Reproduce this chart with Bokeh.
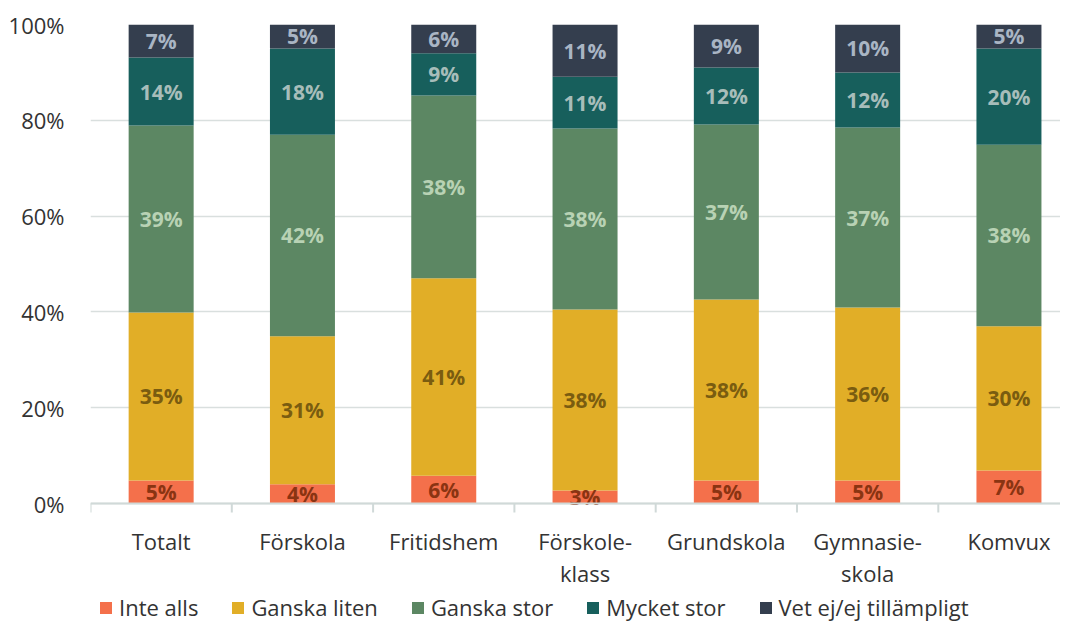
from bokeh.plotting import figure
from bokeh.models import Range1d, FixedTicker, Legend, LegendItem, ColumnDataSource, NumeralTickFormatter
from bokeh.core.properties import value
from bokeh.embed import file_html
from bokeh.resources import INLINE

categories = ["Totalt", "Förskola", "Fritidshem", "Förskole-\nklass", "Grundskola", "Gymnasie-\nskola", "Komvux"]
series = ["Inte alls", "Ganska liten", "Ganska stor", "Mycket stor", "Vet ej/ej tillämpligt"]
inte_alls = [4.8, 4.0, 5.8, 2.7, 4.8, 4.8, 6.9]
ganska_liten = [35.1, 30.9, 41.2, 37.8, 37.8, 36.1, 30.1]
ganska_stor = [39.0, 42.1, 38.2, 37.8, 36.5, 37.6, 37.9]
mycket_stor = [14.2, 18.0, 8.8, 10.8, 11.9, 11.5, 20.1]
vet_ej = [6.9, 5.0, 6.0, 10.9, 9.0, 10.0, 5.0]
labels = {
    "Inte alls": [5, 4, 6, 3, 5, 5, 7],
    "Ganska liten": [35, 31, 41, 38, 38, 36, 30],
    "Ganska stor": [39, 42, 38, 38, 37, 37, 38],
    "Mycket stor": [14, 18, 9, 11, 12, 12, 20],
    "Vet ej/ej tillämpligt": [7, 5, 6, 11, 9, 10, 5],
}
colors = ["#F4704B", "#E1AE27", "#5C8763", "#175F5C", "#343E4E"]
label_colors = ["#8A3412", "#7A5C10", "#B8D2B4", "#A7BDBA", "#A9B5C4"]

FONT = "Open Sans"
values = [inte_alls, ganska_liten, ganska_stor, mycket_stor, vet_ej]
xs = [i + 0.5 for i in range(len(categories))]
n = len(categories)

# layout: 100 % spans 479 px; the frame extends below the axis to hold labels + legend
PX = 479 / 100.0
Y_MIN = -(602 - 479) / PX
X_MAX = 970 / 141.3

data = {"x": xs}
for s, v in zip(series, values):
    data[s] = v
src = ColumnDataSource(data)

p = figure(width=1060, height=626, frame_width=970, frame_height=602,
           output_backend="svg", toolbar_location=None,
           x_range=Range1d(0, X_MAX), y_range=Range1d(Y_MIN, 100),
           min_border_left=90, min_border_top=24, min_border_right=0, min_border_bottom=0)
p.outline_line_color = None
p.background_fill_color = "white"
p.border_fill_color = "white"

renderers = p.vbar_stack(series, x="x", width=0.46, color=colors, source=src, line_color=None)

# data labels
for k, (s, v) in enumerate(zip(series, values)):
    base = [sum(values[j][i] for j in range(k)) for i in range(len(xs))]
    mids = [b + vv / 2 for b, vv in zip(base, v)]
    p.text(x=xs, y=mids, text=[f"{t}%" for t in labels[s]], text_align="center",
           text_baseline="middle", text_font=value(FONT), text_font_style="bold",
           text_font_size="21px", text_color=label_colors[k])

# y axis
p.yaxis.ticker = FixedTicker(ticks=[0, 20, 40, 60, 80, 100])
p.yaxis.formatter = NumeralTickFormatter(format="0")
p.yaxis.major_label_overrides = {v: f"{v}%" for v in [0, 20, 40, 60, 80, 100]}
p.yaxis.axis_line_color = None
p.yaxis.major_tick_line_color = None
p.yaxis.minor_tick_line_color = None
p.yaxis.major_label_text_font = FONT
p.yaxis.major_label_text_font_size = "22px"
p.yaxis.major_label_text_color = "#333333"
p.yaxis.major_label_standoff = 20

p.ygrid.grid_line_color = "#D9DFDE"
p.ygrid.grid_line_width = 1.5
p.xgrid.grid_line_color = None
p.xaxis.visible = False

# category axis drawn at y = 0
AX = "#D0D9D8"
p.segment(x0=[0], y0=[0], x1=[X_MAX], y1=[0], line_color=AX, line_width=2)
bounds = list(range(n + 1))
p.segment(x0=bounds, y0=[0] * len(bounds), x1=bounds, y1=[-9 / PX] * len(bounds),
          line_color=AX, line_width=2)
line1 = [c.split("\n")[0] for c in categories]
line2 = [c.split("\n")[1] if "\n" in c else "" for c in categories]
p.text(x=xs, y=[-37 / PX] * n, text=line1, text_align="center", text_baseline="middle",
       text_font=value(FONT), text_font_size="22px", text_color="#333333")
p.text(x=xs, y=[-69 / PX] * n, text=line2, text_align="center", text_baseline="middle",
       text_font=value(FONT), text_font_size="22px", text_color="#333333")

legend = Legend(items=[LegendItem(label=s, renderers=[r]) for s, r in zip(series, renderers)],
                orientation="horizontal", label_text_font=FONT, label_text_font_size="22px",
                label_text_color="#333333", glyph_width=15, glyph_height=15,
                label_height=22, spacing=32, label_standoff=6, padding=0, margin=0,
                border_line_color=None, background_fill_alpha=0,
                location=(8, 4))
p.add_layout(legend, "center")

open("out.html", "w").write(file_html(p, INLINE))
